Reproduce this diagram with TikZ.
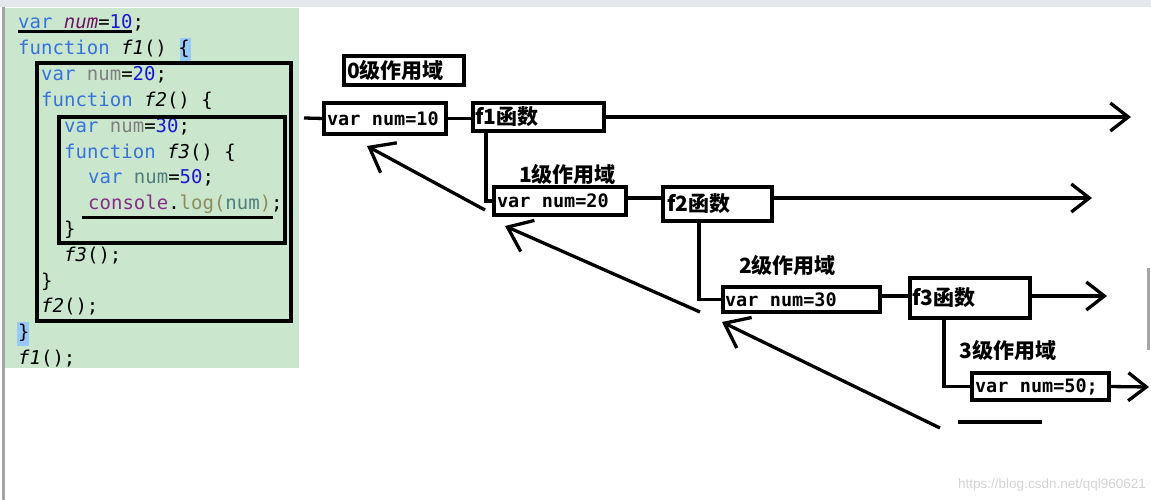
\documentclass[tikz,border=0pt]{standalone}
\usepackage{fontspec}
\usetikzlibrary{arrows.meta}
\newfontfamily\codefont{DejaVu Sans Mono}
\newfontfamily\cjkfont{Noto Sans CJK SC}
\newfontfamily\wmfont{Liberation Sans}
\definecolor{panelgreen}{RGB}{202,230,205}
\definecolor{kwblue}{RGB}{55,115,220}
\definecolor{numblue}{RGB}{25,25,210}
\definecolor{varpurple}{RGB}{110,20,100}
\definecolor{idgray}{RGB}{128,128,128}
\definecolor{idteal}{RGB}{80,125,125}
\definecolor{conspurple}{RGB}{135,45,135}
\definecolor{logolive}{RGB}{140,140,90}
\definecolor{hlblue}{RGB}{150,200,250}
\definecolor{framegray}{RGB}{165,165,165}
\definecolor{topgray}{RGB}{228,232,236}
\definecolor{wmgray}{RGB}{212,212,212}
\newcommand{\cKw}[1]{\textcolor{kwblue}{#1}}
\newcommand{\cNm}[1]{\textcolor{numblue}{#1}}
\newcommand{\cIt}[1]{{\itshape #1}}
\newcommand{\msp}{\hspace{0.62em}}
\begin{document}
\begin{tikzpicture}[x=1pt,y=-1pt,
  code/.style={anchor=base west, inner sep=0pt, font=\codefont\fontsize{19}{22}\selectfont},
  codeframe/.style={draw, line width=3.8pt},
  dbox/.style={draw, line width=3.2pt, anchor=north west, inner xsep=3pt, inner ysep=0pt,
    outer sep=0pt, align=left},
  monotxt/.style={font=\codefont\bfseries\fontsize{18.5}{20}\selectfont},
  cjktxt/.style={font=\cjkfont\bfseries\fontsize{21}{23}\selectfont},
  wire/.style={line width=3.3pt},
  fwd/.style={wire, -{Straight Barb[length=18pt,width=28pt]}},
  back/.style={wire, -{Straight Barb[length=22pt,width=34pt]}}
]
\useasboundingbox (0,0) rectangle (1151,500);
% screenshot frame
\fill[topgray] (0,0) rectangle (1151,7);
\fill[framegray] (2,7) rectangle (5,500);
\fill[gray!70] (1147,268) rectangle (1150,350);
% code panel
\fill[panelgreen] (5,8) rectangle (299,368);
\fill[hlblue] (180,38) rectangle (191,61);
\fill[hlblue] (17,322) rectangle (29,346);
\node[code] (c1) at (18,29) {\cKw{var} \textcolor{varpurple}{\itshape num}=\cNm{10};};
\node[code] (c2) at (18,54.8) {\cKw{function} \cIt{f1}() \{};
\node[code] (c3) at (41,80.6) {\cKw{var} \textcolor{idgray}{num}=\cNm{20};};
\node[code] (c4) at (41,106.4) {\cKw{function} \cIt{f2}() \{};
\node[code] (c5) at (64,132.2) {\cKw{var} \textcolor{idgray}{num}=\cNm{30};};
\node[code] (c6) at (64,158) {\cKw{function} \cIt{f3}() \{};
\node[code] (c7) at (88,183.8) {\cKw{var} \textcolor{idteal}{num}=\cNm{50};};
\node[code] (c8) at (88,209.6) {\textcolor{conspurple}{console}.\textcolor{logolive}{log(}\textcolor{idteal}{num}\textcolor{logolive}{)};};
\node[code] (c9) at (64,235.4) {\}};
\node[code] (c10) at (64,261.2) {\cIt{f3}();};
\node[code] (c11) at (41,287) {\}};
\node[code] (c12) at (41,312.8) {\cIt{f2}();};
\node[code] (c13) at (18,338.6) {\}};
\node[code] (c14) at (18,364.4) {\cIt{f1}();};
\draw[codeframe] (37,63) rectangle (291,321);
\draw[codeframe] (59,117) rectangle (285,243);
\draw[line width=3pt] (18,32) -- (132,32);
\draw[line width=3pt] (82,217) -- (273,217);
% scope diagram
\node[dbox, cjktxt, minimum width=120pt, minimum height=29pt, text width=114pt, inner xsep=3pt] (s0) at (344,56) {\mbox{0级作用域}};
\node[dbox, monotxt, minimum width=122pt, minimum height=31pt, text width=116pt] (v0) at (324,103) {\mbox{var\msp num=10}};
\node[dbox, cjktxt, minimum width=131pt, minimum height=28pt, text width=127pt, inner xsep=2pt] (f1) at (473,103) {\mbox{f1函数}};
\node[dbox, monotxt, minimum width=132pt, minimum height=28pt, text width=126pt] (v1) at (494,187) {\mbox{var\msp num=20}};
\node[dbox, cjktxt, minimum width=109pt, minimum height=34pt, text width=101pt, inner xsep=4pt] (f2) at (663,187) {\mbox{f2函数}};
\node[dbox, monotxt, minimum width=157pt, minimum height=25pt, text width=153pt, inner xsep=2pt] (v2) at (723,287) {\mbox{var\msp num=30}};
\node[dbox, cjktxt, minimum width=120pt, minimum height=40pt, text width=116pt, inner xsep=2pt] (f3) at (910,278) {\mbox{f3函数}\\[14pt]};
\node[dbox, monotxt, minimum width=137pt, minimum height=27pt, text width=131pt] (v3) at (972,373) {\mbox{var\msp num=50;}};
\node[cjktxt, anchor=west, inner sep=0pt] (l1) at (519,174) {1级作用域};
\node[cjktxt, anchor=west, inner sep=0pt] (l2) at (739,265) {2级作用域};
\node[cjktxt, anchor=west, inner sep=0pt] (l3) at (959,350) {3级作用域};
% connectors
\coordinate (st) at (304,118);
\coordinate (e1) at (1131,117);
\coordinate (e2) at (1092,198);
\coordinate (e3) at (1107,296);
\coordinate (e4) at (1149,387);
\draw[wire] (st) -- (v0.west);
\draw[wire] (v0.east) -- (v0.east -| f1.west);
\draw[fwd] (f1.east |- e1) -- (e1);
\draw[wire] ([xshift=13pt]f1.south west) |- (v1.west);
\draw[wire] (v1.east |- e2) -- (f2.west |- e2);
\draw[fwd] (f2.east |- e2) -- (e2);
\draw[wire] ([xshift=36pt]f2.south west) |- (v2.west);
\draw[wire] (v2.east |- e3) -- (f3.west |- e3);
\draw[fwd] (f3.east |- e3) -- (e3);
\draw[wire] ([xshift=34pt]f3.south west) |- (v3.west);
\draw[fwd] (v3.east) -- (e4);
% look-up arrows
\coordinate (a0) at (485,210);
\coordinate (t0) at (367,146);
\coordinate (a1) at (700,312);
\coordinate (t1) at (505,226);
\coordinate (a2) at (940,428);
\coordinate (t2) at (722,322);
\coordinate (d0) at (958,422);
\coordinate (d1) at (1042,422);
\draw[back] (a0) -- (t0);
\draw[back] (a1) -- (t1);
\draw[back] (a2) -- (t2);
\draw[wire] (d0) -- (d1);
% watermark
\node[anchor=west, inner sep=0pt, text=wmgray, font=\wmfont\fontsize{13.5}{15}\selectfont] (wm) at (958,485) {https://blog.csdn.net/qql960621};
\end{tikzpicture}
\end{document}
